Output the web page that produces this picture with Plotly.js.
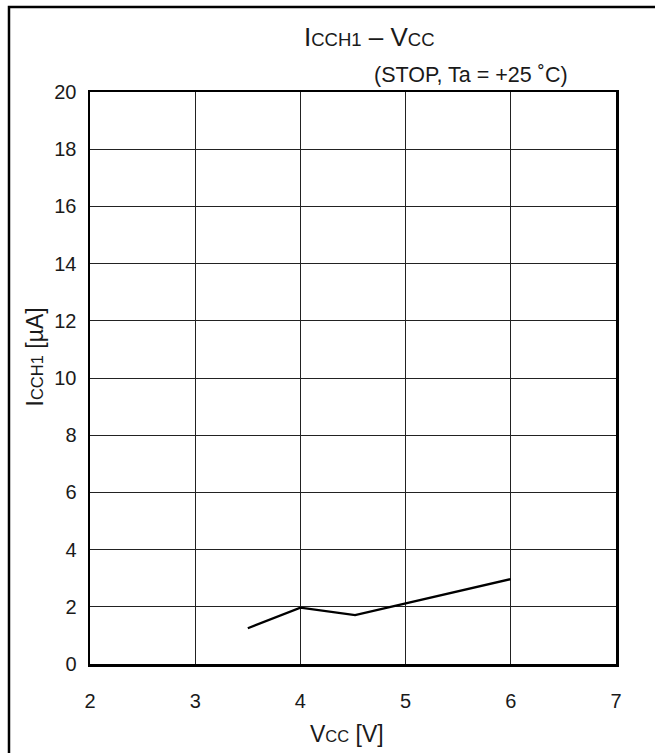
<!DOCTYPE html>
<html>
<head>
<meta charset="utf-8">
<script src="https://cdn.plot.ly/plotly-3.0.1.min.js"></script>
<style>
  html, body { margin: 0; padding: 0; background: #fff; }
  #chart { width: 655px; height: 753px; }
</style>
</head>
<body>
<div id="chart"></div>
<script>
// Data
const vcc = [3.5, 4.0, 4.52, 6.0];          // Vcc [V]
const icch1 = [1.25, 1.97, 1.71, 2.97];     // ICCH1 [µA]
const xTicks = [2, 3, 4, 5, 6, 7];
const yTicks = [0, 2, 4, 6, 8, 10, 12, 14, 16, 18, 20];

const FONT = '"Liberation Sans", Arial, sans-serif';
const TXT = '#1a1a1a';

const trace = {
  x: vcc, y: icch1, type: 'scatter', mode: 'lines',
  line: { color: '#000', width: 2.3 }, hoverinfo: 'skip', showlegend: false
};

const axisCommon = {
  showline: true, linecolor: '#000', linewidth: 2.5, mirror: true,
  showgrid: true, gridcolor: '#222', gridwidth: 1,
  zeroline: false, ticks: '', tickfont: { family: FONT, size: 20, color: TXT },
  fixedrange: true
};

const layout = {
  width: 655, height: 753,
  margin: { l: 90, r: 39, t: 92, b: 89 },
  paper_bgcolor: '#fff', plot_bgcolor: '#fff',
  font: { family: FONT, color: TXT },
  xaxis: Object.assign({}, axisCommon, {
    range: [2, 7], tickmode: 'array', tickvals: xTicks, ticktext: xTicks.map(String),
    ticklabelstandoff: 17
  }),
  yaxis: Object.assign({}, axisCommon, {
    range: [0, 20], tickmode: 'array', tickvals: yTicks, ticktext: yTicks.map(String),
    ticklabelstandoff: 7
  }),
  shapes: [{
    type: 'rect', xref: 'paper', yref: 'paper',
    x0: -0.154, x1: 1.3, y0: -0.3, y1: 1.1486,
    line: { color: '#000', width: 2.5 }, fillcolor: 'rgba(0,0,0,0)', layer: 'above'
  }],
  annotations: [
    {
      xref: 'paper', yref: 'paper', x: 0.531, y: 1.0967, xanchor: 'center', yanchor: 'middle',
      showarrow: false, font: { family: FONT, size: 26, color: TXT },
      text: 'I<span style="font-size:18.5px">CCH1</span> – V<span style="font-size:18.5px">CC</span>'
    },
    {
      xref: 'paper', yref: 'paper', x: 0.9125, y: 1.0302, xanchor: 'right', yanchor: 'middle',
      showarrow: false, font: { family: FONT, size: 21.5, color: TXT },
      text: '(STOP, Ta = +25 ˚C)'
    },
    {
      xref: 'paper', yref: 'paper', x: 0.489, y: -0.1224, xanchor: 'center', yanchor: 'middle',
      showarrow: false, font: { family: FONT, size: 23, color: TXT },
      text: 'V<span style="font-size:16.5px">CC</span> [V]'
    },
    {
      xref: 'paper', yref: 'paper', x: -0.1027, y: 0.5376, xanchor: 'center', yanchor: 'middle',
      showarrow: false, textangle: -90, font: { family: FONT, size: 23, color: TXT },
      text: 'I<span style="font-size:16.5px">CCH1</span> [µA]'
    }
  ]
};

Plotly.newPlot('chart', [trace], layout, { staticPlot: true, displayModeBar: false });
</script>
</body>
</html>
